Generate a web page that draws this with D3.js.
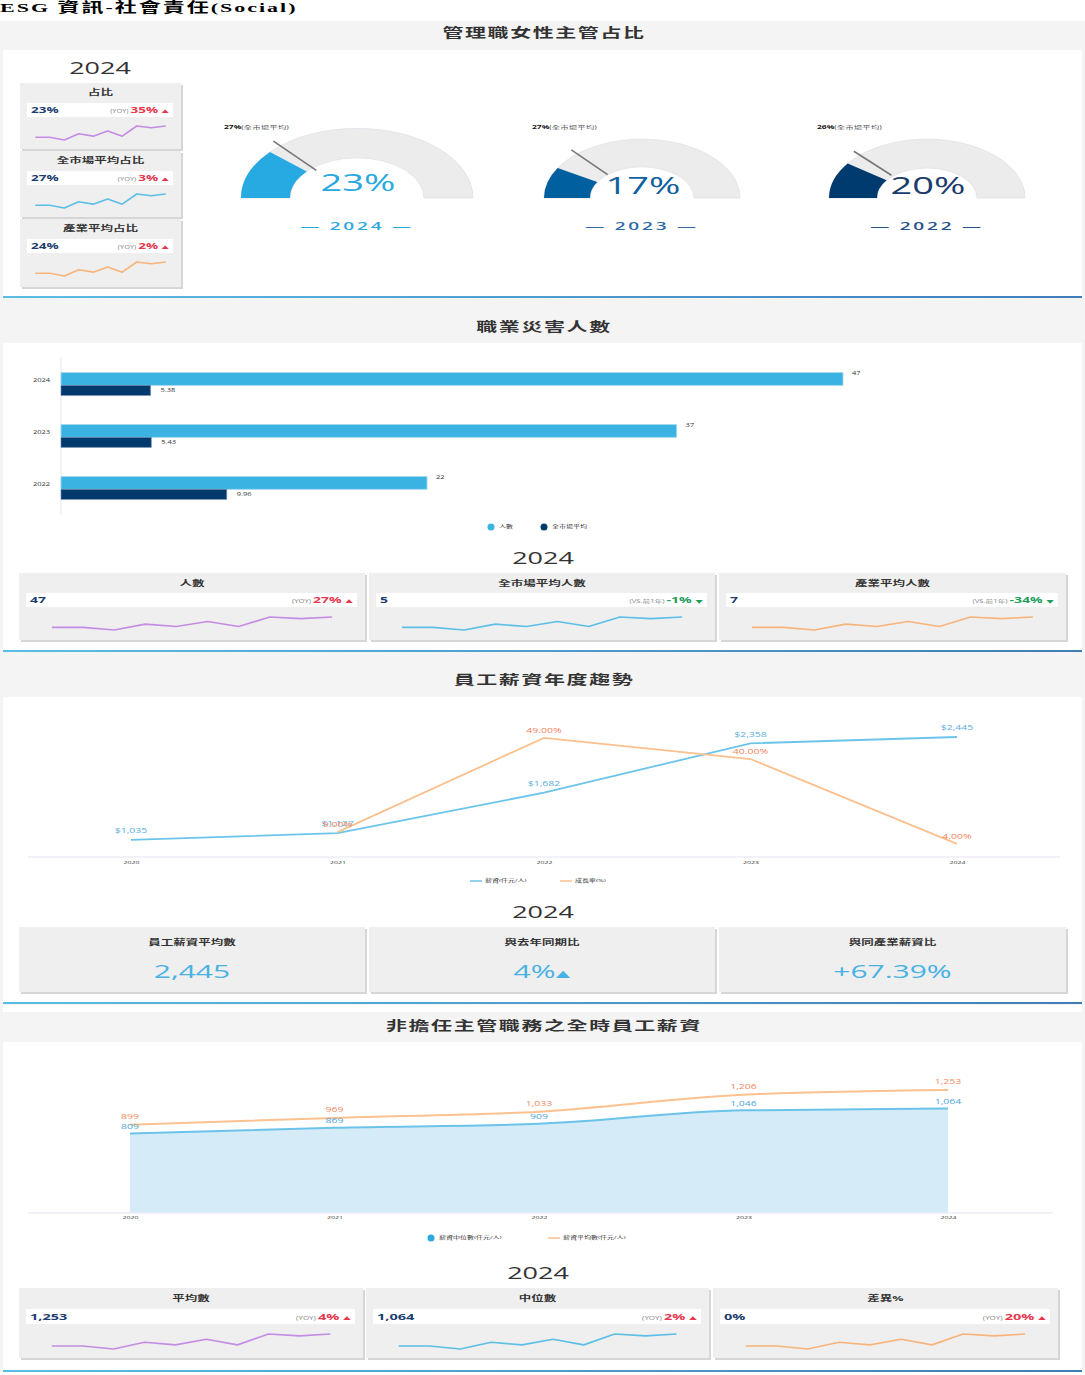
<!DOCTYPE html>
<html><head><meta charset="utf-8">
<script src="https://cdn.jsdelivr.net/npm/d3@7"></script>
<style>html,body{margin:0;padding:0;background:#fff;overflow:hidden}svg{display:block}</style>
</head><body>
<svg id="c"></svg>
<script>
// ---------------- DATA ----------------
const pageTitle = "ESG 資訊-社會責任(Social)";
const sectionTitles = ["管理職女性主管占比", "職業災害人數", "員工薪資年度趨勢", "非擔任主管職務之全時員工薪資"];
const kpiYear = "2024";

const gaugeYears = ["2024", "2023", "2022"];
const gaugeValues = [23, 17, 20];
const gaugeMarket = [27, 27, 26];
const gaugeMarketLabel = "全市場平均";

const ratioCardTitles = ["占比", "全市場平均占比", "產業平均占比"];
const ratioCardValues = ["23%", "27%", "24%"];
const ratioCardChange = ["35%", "3%", "2%"];

const barYears = ["2024", "2023", "2022"];
const barCount = [47, 37, 22];
const barMarketAvg = [5.38, 5.43, 9.96];
const barLegend = ["人數", "全市場平均"];

const injuryCardTitles = ["人數", "全市場平均人數", "產業平均人數"];
const injuryCardValues = ["47", "5", "7"];
const injuryCardTag = ["(YOY)", "(VS.前1年)", "(VS.前1年)"];
const injuryCardChange = ["27%", "-1%", "-34%"];
const injuryCardUp = [true, false, false];

const years = ["2020", "2021", "2022", "2023", "2024"];
const salary = [1035, 1127, 1682, 2358, 2445];
const salaryLabels = ["$1,035", "$1,127", "$1,682", "$2,358", "$2,445"];
const growthYears = ["2021", "2022", "2023", "2024"];
const growth = [9, 49, 40, 4];
const lineLegend = ["薪資(仟元/人)", "成長率(%)"];

const salaryCardTitles = ["員工薪資平均數", "與去年同期比", "與同產業薪資比"];
const salaryCardValues = ["2,445", "4%", "+67.39%"];

const medianSalary = [809, 869, 909, 1046, 1064];
const meanSalary = [899, 969, 1033, 1206, 1253];
const areaLegend = ["薪資中位數(仟元/人)", "薪資平均數(仟元/人)"];

const fullCardTitles = ["平均數", "中位數", "差異%"];
const fullCardValues = ["1,253", "1,064", "0%"];
const fullCardChange = ["4%", "2%", "20%"];

const sparkVals = [8, 8, 0, 18, 11, 26, 11, 40, 35, 40];

// ---------------- SETUP ----------------
const SY = 0.6;            // the picture is squashed vertically
const W = 1085, HREF = 1375;
const Y = v => v / SY;
const FONT = "'Open Sans','Noto Sans CJK TC',sans-serif";

const svg = d3.select('#c').attr('width', W).attr('height', HREF)
  .attr('viewBox', `0 0 ${W} ${HREF / SY}`).attr('preserveAspectRatio', 'none')
  .style('font-family', FONT);

const defs = svg.append('defs');
const grad = defs.append('linearGradient').attr('id', 'divg').attr('x1', '0').attr('x2', '1');
grad.append('stop').attr('offset', '0').attr('stop-color', '#5bbde3');
grad.append('stop').attr('offset', '1').attr('stop-color', '#3f7db9');

function T(g, x, yref, str, o = {}) {
  const t = g.append('text').attr('x', x).attr('y', Y(yref)).attr('dy', '0.35em')
    .attr('text-anchor', o.anchor || 'start')
    .attr('font-size', o.size || 10).attr('fill', o.fill || '#333')
    .attr('font-weight', o.weight || 400).text(str);
  if (o.ls) t.attr('letter-spacing', o.ls);
  if (o.family) t.attr('font-family', o.family);
  return t;
}

// background
svg.append('rect').attr('x', 0).attr('y', 0).attr('width', W).attr('height', HREF / SY).attr('fill', '#fff');
svg.append('rect').attr('x', 0).attr('y', Y(21)).attr('width', W).attr('height', Y(1372) - Y(21)).attr('fill', '#f4f4f4');
[[50, 297], [343, 651], [697, 1003], [1005, 1012], [1042, 1371]].forEach(([a, b]) =>
  svg.append('rect').attr('x', 3).attr('y', Y(a)).attr('width', 1079).attr('height', Y(b) - Y(a)).attr('fill', '#fff'));
[296, 650, 1002, 1370].forEach(v =>
  svg.append('rect').attr('x', 3).attr('y', Y(v)).attr('width', 1079).attr('height', Y(2)).attr('fill', 'url(#divg)'));

// page title
T(svg, 0, 12, pageTitle, { size: 22, weight: 700, fill: '#000', ls: 2, family: "'Liberation Serif','Noto Sans CJK TC',serif" })
  .attr('dy', 0);

// section headers
[33, 327, 680, 1026].forEach((yy, i) =>
  T(svg, 544, yy, sectionTitles[i], { anchor: 'middle', size: 21, weight: 700, fill: '#333', ls: 1.6 }));

// year labels
[[100, 68], [543, 558], [543, 912], [538, 1273]].forEach(([x, yy]) =>
  T(svg, x, yy, kpiYear, { anchor: 'middle', size: 27, fill: '#333' }));

// ---------------- CARD HELPERS ----------------
function cardBox(x0, x1, y0, y1) {
  svg.append('rect').attr('x', x0 + 2).attr('y', Y(y0 + 2)).attr('width', x1 - x0).attr('height', Y(y1) - Y(y0))
    .attr('fill', '#d6d6d6');
  svg.append('rect').attr('x', x0).attr('y', Y(y0)).attr('width', x1 - x0).attr('height', Y(y1) - Y(y0))
    .attr('fill', '#efefef');
}
function spark(x0, x1, y0, y1, color) {
  const xs = d3.scalePoint().domain(d3.range(sparkVals.length)).range([x0, x1]);
  const ys = d3.scaleLinear().domain([0, 40]).range([Y(y1), Y(y0)]);
  svg.append('path').datum(sparkVals)
    .attr('d', d3.line().x((d, i) => xs(i)).y(d => ys(d)))
    .attr('fill', 'none').attr('stroke', color).attr('stroke-width', 1.6)
    .attr('vector-effect', 'non-scaling-stroke').attr('stroke-linejoin', 'round');
}
function kpiCard(x0, x1, y0, y1, off, title, value, tag, pct, up, color, sz) {
  cardBox(x0, x1, y0, y1);
  T(svg, (x0 + x1) / 2, y0 + off.title, title, { anchor: 'middle', size: sz.title, weight: 700, fill: '#333' });
  const sx0 = x0 + 7, sx1 = x1 - 8;
  svg.append('rect').attr('x', sx0).attr('y', Y(y0 + off.s0)).attr('width', sx1 - sx0)
    .attr('height', Y(y0 + off.s1) - Y(y0 + off.s0)).attr('fill', '#fff');
  const sm = y0 + (off.s0 + off.s1) / 2;
  T(svg, sx0 + 4, sm, value, { size: sz.val, weight: 700, fill: '#1c3d6e' });
  const col = up ? '#e5374e' : '#1e9e5a';
  const t = svg.append('text').attr('x', sx1 - 4).attr('y', Y(sm)).attr('dy', '0.35em')
    .attr('text-anchor', 'end');
  t.append('tspan').attr('font-size', sz.val * 0.55).attr('fill', '#888').text(tag + ' ');
  t.append('tspan').attr('font-size', sz.val).attr('font-weight', 700).attr('fill', col).text(pct + ' ');
  t.append('tspan').attr('font-size', sz.val * 0.55).attr('fill', col).text(up ? '▲' : '▼');
  const ins = (x1 - x0) * 0.095;
  spark(x0 + ins, x1 - ins, y0 + off.p0, y0 + off.p1, color);
}
const sparkColors = ['#c48de4', '#5bbfe6', '#f8b47a'];

// ---------------- SECTION 1: gauges ----------------
[[83, 149], [151, 217], [219, 287]].forEach(([a, b], i) =>
  kpiCard(20, 181, a, b, { title: 9, s0: 20, s1: 34, p0: 43, p1: 57 },
    ratioCardTitles[i], ratioCardValues[i], '(YOY)', ratioCardChange[i], true, sparkColors[i],
    { title: 12.5, val: 13.5 }));

const gCx = [357, 642, 927], gR = [116, 98, 98], gIr = [67, 52, 50];
const gFill = ['#27aae1', '#00609f', '#003b6f'];
const gText = ['#2aa9e0', '#11609f', '#1c3c6c'];
const gYear = ['#2aa9e0', '#2b68a6', '#23508a'];
const gAng = d3.scaleLinear().domain([0, 100]).range([-Math.PI / 2, Math.PI / 2]);
gaugeYears.forEach((yr, i) => {
  const g = svg.append('g').attr('transform', `translate(${gCx[i]},${Y(198)})`);
  const arc = d3.arc().innerRadius(gIr[i]).outerRadius(gR[i]);
  g.append('path').attr('d', arc({ startAngle: gAng(0), endAngle: gAng(100) }))
    .attr('fill', '#ececec').attr('stroke', '#dfe0e8').attr('stroke-width', 0.8).attr('vector-effect', 'non-scaling-stroke');
  g.append('path').attr('d', arc({ startAngle: gAng(0), endAngle: gAng(gaugeValues[i]) })).attr('fill', gFill[i]);
  const a = gAng(gaugeMarket[i]);
  const r0 = gR[i] * 0.53, r1 = gR[i] * 1.09;
  g.append('line').attr('x1', r0 * Math.sin(a)).attr('y1', -r0 * Math.cos(a))
    .attr('x2', r1 * Math.sin(a)).attr('y2', -r1 * Math.cos(a))
    .attr('stroke', '#777').attr('stroke-width', 1.6).attr('vector-effect', 'non-scaling-stroke');
  T(svg, gCx[i] + 1, i === 0 ? 183 : 186, gaugeValues[i] + '%', { anchor: 'middle', size: 38, weight: 400, fill: gText[i] });
  T(svg, gCx[i], 226, '— ' + yr + ' —', { anchor: 'middle', size: 19, weight: 600, fill: gYear[i], ls: 2.8 });
  const lt = svg.append('text').attr('x', gCx[i] - (i === 0 ? 133 : 110)).attr('y', Y(127)).attr('dy', '0.35em')
    .attr('font-size', 8.5);
  lt.append('tspan').attr('font-weight', 700).attr('fill', '#111').text(gaugeMarket[i] + '%');
  lt.append('tspan').attr('fill', '#555').text('(' + gaugeMarketLabel + ')');
});

// ---------------- SECTION 2: bars ----------------
const by = d3.scaleBand().domain(barYears).range([Y(357), Y(515)]).paddingInner(0.56).paddingOuter(0.3);
const bx = d3.scaleLinear().domain([0, d3.max(barCount)]).range([61, 843]);
svg.append('line').attr('x1', 61).attr('x2', 61).attr('y1', Y(357)).attr('y2', Y(515))
  .attr('stroke', '#e4e6ef').attr('stroke-width', 1).attr('vector-effect', 'non-scaling-stroke');
const bw = by.bandwidth();
const lightH = bw * 0.56;
barYears.forEach((yr, i) => {
  const y0 = by(yr);
  svg.append('rect').attr('x', bx(0)).attr('y', y0).attr('width', bx(barCount[i]) - bx(0)).attr('height', lightH)
    .attr('fill', '#3bb3e2').attr('stroke', '#9fd8f0').attr('stroke-width', 0.8).attr('vector-effect', 'non-scaling-stroke');
  svg.append('rect').attr('x', bx(0)).attr('y', y0 + lightH).attr('width', bx(barMarketAvg[i]) - bx(0)).attr('height', bw - lightH)
    .attr('fill', '#003a6c').attr('stroke', '#6f8fb0').attr('stroke-width', 0.6).attr('vector-effect', 'non-scaling-stroke');
  svg.append('text').attr('x', bx(barCount[i]) + 9).attr('y', y0 + 2).attr('dy', '0.35em')
    .attr('font-size', 7.5).attr('fill', '#333').text(barCount[i]);
  svg.append('text').attr('x', bx(barMarketAvg[i]) + 10).attr('y', y0 + lightH + (bw - lightH) / 2).attr('dy', '0.35em')
    .attr('font-size', 7.5).attr('fill', '#333').text(barMarketAvg[i].toFixed(2));
});
const byAxis = svg.append('g').attr('transform', 'translate(53,0)')
  .call(d3.axisLeft(by).tickSize(0).tickPadding(3));
byAxis.select('.domain').remove();
byAxis.selectAll('text').attr('font-size', 7.5).attr('fill', '#333').attr('font-family', FONT)
  .attr('transform', `translate(0,${-Y(3)})`);
// legend
[['#3bb3e2', 491], ['#003a6c', 544]].forEach(([c, x], i) => {
  svg.append('ellipse').attr('cx', x).attr('cy', Y(527)).attr('rx', 3.5).attr('ry', 3.5 / SY).attr('fill', c);
  T(svg, x + 8, 527, barLegend[i], { size: 7, fill: '#333' });
});
[[19, 365], [369, 715], [719, 1066]].forEach(([a, b], i) =>
  kpiCard(a, b, 573, 640, { title: 10, s0: 20, s1: 34, p0: 44, p1: 57 },
    injuryCardTitles[i], injuryCardValues[i], injuryCardTag[i], injuryCardChange[i], injuryCardUp[i], sparkColors[i],
    { title: 12.5, val: 14 }));

// ---------------- SECTION 3: line chart ----------------
const lx = d3.scalePoint().domain(years).range([131, 957]);
const ls = d3.scaleLinear().domain([800, 2600]).range([Y(857), Y(725.7)]);
const lg = d3.scaleLinear().domain([-2, 55]).range([Y(858), Y(723.7)]);
svg.append('line').attr('x1', 28).attr('x2', 1060).attr('y1', Y(857)).attr('y2', Y(857))
  .attr('stroke', '#eceef5').attr('stroke-width', 1.5).attr('vector-effect', 'non-scaling-stroke');
const lxa = svg.append('g').attr('transform', `translate(0,${Y(857)})`)
  .call(d3.axisBottom(lx).tickSize(0).tickPadding(Y(4)));
lxa.select('.domain').remove();
lxa.selectAll('text').attr('font-size', 7).attr('fill', '#333').attr('font-family', FONT);
svg.append('path').datum(salary)
  .attr('d', d3.line().x((d, i) => lx(years[i])).y(d => ls(d)))
  .attr('fill', 'none').attr('stroke', '#6cc4ea').attr('stroke-width', 1.8).attr('vector-effect', 'non-scaling-stroke');
svg.append('path').datum(growth)
  .attr('d', d3.line().x((d, i) => lx(growthYears[i])).y(d => lg(d)))
  .attr('fill', 'none').attr('stroke', '#fbc08e').attr('stroke-width', 1.8).attr('vector-effect', 'non-scaling-stroke');
salary.forEach((d, i) =>
  svg.append('text').attr('x', lx(years[i])).attr('y', ls(d) - Y(9)).attr('dy', '0.35em').attr('text-anchor', 'middle')
    .attr('font-size', 10.5).attr('fill', '#59aee0').text(salaryLabels[i]));
growth.forEach((d, i) =>
  svg.append('text').attr('x', lx(growthYears[i])).attr('y', lg(d) - Y(7)).attr('dy', '0.35em').attr('text-anchor', 'middle')
    .attr('font-size', 10.5).attr('fill', '#f4845c').text(d.toFixed(2) + '%'));
[['#6cc4ea', 470], ['#fbc08e', 560]].forEach(([c, x], i) => {
  svg.append('line').attr('x1', x).attr('x2', x + 12).attr('y1', Y(881)).attr('y2', Y(881))
    .attr('stroke', c).attr('stroke-width', 1.5).attr('vector-effect', 'non-scaling-stroke');
  T(svg, x + 15, 881, lineLegend[i], { size: 7, fill: '#333' });
});
[[19, 365], [369, 715], [719, 1066]].forEach(([a, b], i) => {
  cardBox(a, b, 927, 992);
  T(svg, (a + b) / 2, 942, salaryCardTitles[i], { anchor: 'middle', size: 12.5, weight: 700, fill: '#333' });
  const t = T(svg, (a + b) / 2, 972, salaryCardValues[i], { anchor: 'middle', size: 30, fill: '#49b2e4' });
  if (i === 1) t.append('tspan').attr('font-size', 15).text('▲');
});

// ---------------- SECTION 4: area chart ----------------
const ax = d3.scalePoint().domain(years).range([130, 948]);
const ay = d3.scaleLinear().domain([0, 1600]).range([Y(1213), Y(1056)]);
svg.append('path').datum(medianSalary)
  .attr('d', d3.area().x((d, i) => ax(years[i])).y0(ay(0)).y1(d => ay(d)).curve(d3.curveMonotoneX))
  .attr('fill', '#d5ecf8');
svg.append('line').attr('x1', 28).attr('x2', 1053).attr('y1', Y(1213)).attr('y2', Y(1213))
  .attr('stroke', '#eceef5').attr('stroke-width', 1.5).attr('vector-effect', 'non-scaling-stroke');
svg.append('path').datum(medianSalary)
  .attr('d', d3.line().x((d, i) => ax(years[i])).y(d => ay(d)).curve(d3.curveMonotoneX))
  .attr('fill', 'none').attr('stroke', '#6cc3ea').attr('stroke-width', 2).attr('vector-effect', 'non-scaling-stroke');
svg.append('path').datum(meanSalary)
  .attr('d', d3.line().x((d, i) => ax(years[i])).y(d => ay(d)).curve(d3.curveMonotoneX))
  .attr('fill', 'none').attr('stroke', '#fbc18f').attr('stroke-width', 2).attr('vector-effect', 'non-scaling-stroke');
const axa = svg.append('g').attr('transform', `translate(0,${Y(1213)})`)
  .call(d3.axisBottom(ax).tickSize(0).tickPadding(Y(3)));
axa.select('.domain').remove();
axa.selectAll('text').attr('font-size', 7).attr('fill', '#333').attr('font-family', FONT);
const fmt = d3.format(',');
meanSalary.forEach((d, i) =>
  svg.append('text').attr('x', ax(years[i])).attr('y', ay(d) - Y(8)).attr('dy', '0.35em').attr('text-anchor', 'middle')
    .attr('font-size', 10.5).attr('fill', '#f4875f').text(fmt(d)));
medianSalary.forEach((d, i) =>
  svg.append('text').attr('x', ax(years[i])).attr('y', ay(d) - Y(7)).attr('dy', '0.35em').attr('text-anchor', 'middle')
    .attr('font-size', 10.5).attr('fill', '#4fa6dc').text(fmt(d)));
svg.append('ellipse').attr('cx', 431).attr('cy', Y(1238)).attr('rx', 3.5).attr('ry', 3.5 / SY).attr('fill', '#2aa9e0');
T(svg, 439, 1238, areaLegend[0], { size: 7, fill: '#333' });
svg.append('line').attr('x1', 548).attr('x2', 560).attr('y1', Y(1238)).attr('y2', Y(1238))
  .attr('stroke', '#fbc18f').attr('stroke-width', 1.5).attr('vector-effect', 'non-scaling-stroke');
T(svg, 563, 1238, areaLegend[1], { size: 7, fill: '#333' });

[[19, 363], [366, 709], [713, 1058]].forEach(([a, b], i) =>
  kpiCard(a, b, 1288, 1358, { title: 10, s0: 21, s1: 36, p0: 46, p1: 61 },
    fullCardTitles[i], fullCardValues[i], '(YOY)', fullCardChange[i], true, sparkColors[i],
    { title: 12.5, val: 14.5 }));
</script>
</body></html>
